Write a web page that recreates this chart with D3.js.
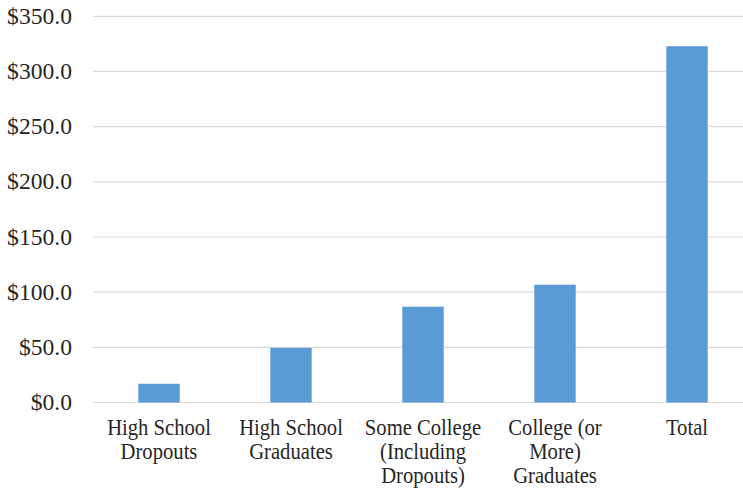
<!DOCTYPE html>
<html><head><meta charset="utf-8">
<script src="https://cdn.jsdelivr.net/npm/d3@7"></script>
<style>body{margin:0;background:#fff}svg{display:block}</style>
</head><body>
<script>
const categories = [["High School","Dropouts"],["High School","Graduates"],["Some College","(Including","Dropouts)"],["College (or","More)","Graduates"],["Total"]];
const values = [17.0, 49.5, 86.8, 106.7, 322.9];
const yTicks = [0, 50, 100, 150, 200, 250, 300, 350];

const W = 743, H = 491;
const FONT = '"Liberation Serif"';
const svg = d3.select("body").append("svg").attr("width", W).attr("height", H);

const x = d3.scaleBand().domain(d3.range(categories.length)).range([93, 753]).paddingInner(0.686).paddingOuter(0.343);
const y = d3.scaleLinear().domain([0, 350]).range([402.5, 16.3]);

// gridlines
svg.append("g").selectAll("line").data(yTicks).join("line")
  .attr("x1", 93).attr("x2", W).attr("y1", d => y(d)).attr("y2", d => y(d))
  .attr("stroke", "#d9d9d9").attr("stroke-width", 1.2);

// y axis labels
const yAxis = d3.axisLeft(y).tickValues(yTicks).tickSize(0).tickPadding(0).tickFormat(d => "$" + d3.format(".1f")(d));
const ya = svg.append("g").attr("transform", "translate(72,0)").call(yAxis);
ya.select(".domain").remove();
ya.selectAll("text").style("font-family", FONT).style("font-size", "23.6px").attr("fill", "#262626").attr("dy", "0.3em");

// bars
svg.append("g").selectAll("rect").data(values).join("rect")
  .attr("x", (d, i) => x(i)).attr("width", x.bandwidth())
  .attr("y", d => y(d)).attr("height", d => y(0) - y(d))
  .attr("fill", "#5b9bd5");

// x labels
const lab = svg.append("g").selectAll("text").data(categories).join("text")
  .attr("text-anchor", "middle").style("font-family", FONT).style("font-size", "23.6px").attr("fill", "#262626")
  .attr("transform", (d, i) => `translate(${x(i) + x.bandwidth() / 2},0) scale(0.875,1)`);
lab.selectAll("tspan").data(d => d).join("tspan")
  .attr("x", 0).attr("y", (d, j) => 435.5 + j * 24).text(d => d);
</script>
</body></html>
